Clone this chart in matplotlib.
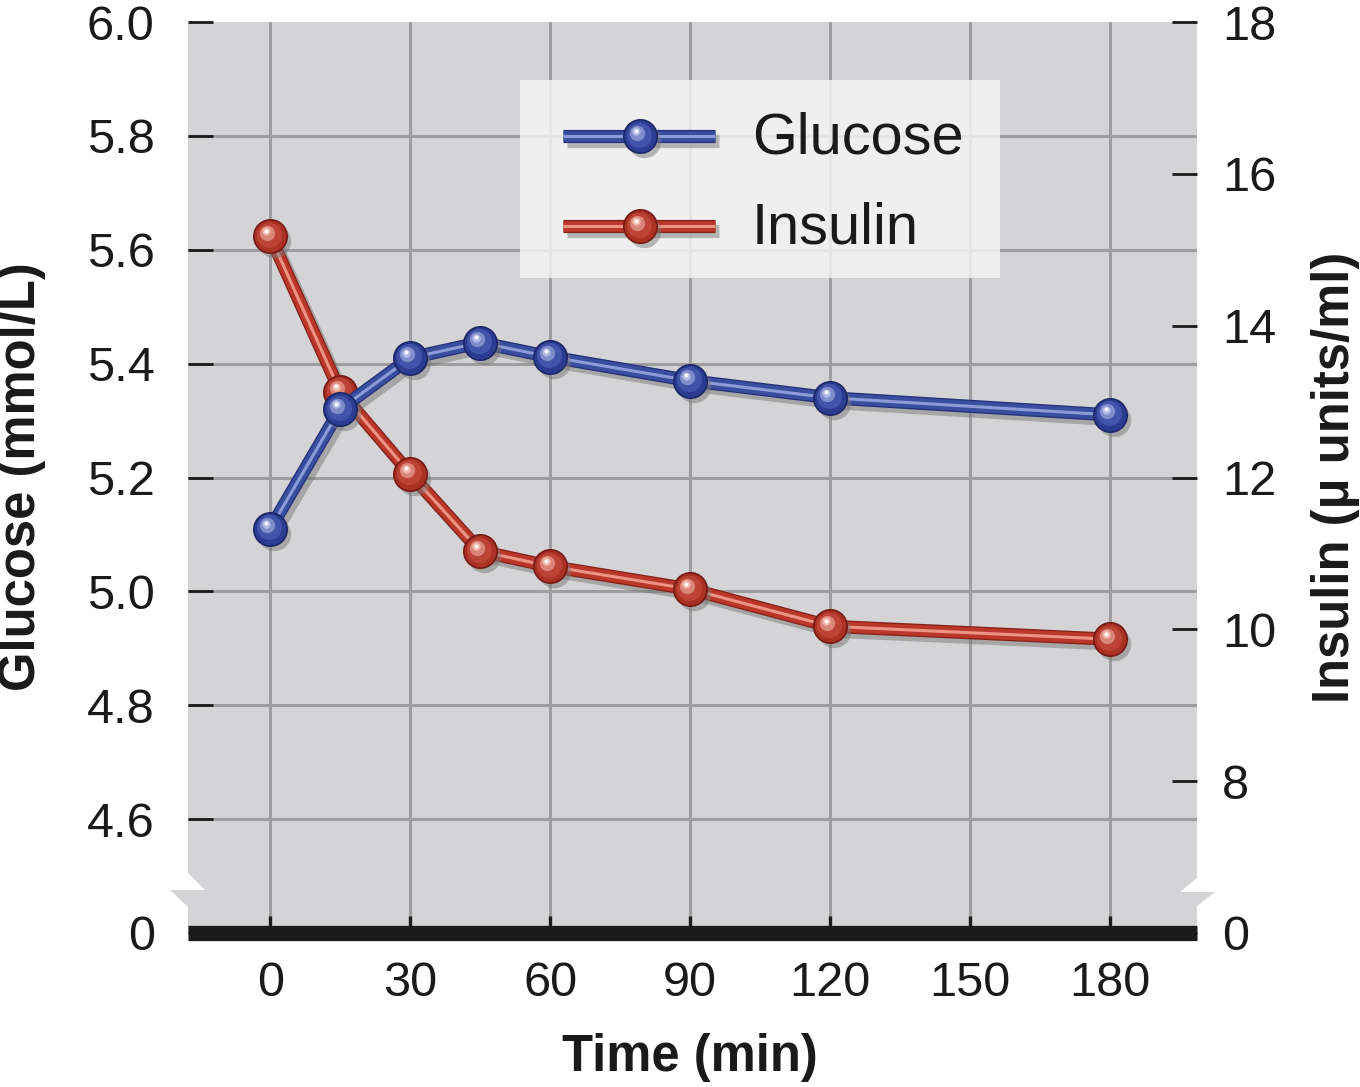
import matplotlib
matplotlib.use("Agg")
import matplotlib.pyplot as plt
import matplotlib.patheffects as pe
from matplotlib import transforms
from matplotlib.patches import Polygon, Rectangle

plt.rcParams['font.family'] = ['Liberation Sans', 'DejaVu Sans']

# data
time_min = [0, 15, 30, 45, 60, 90, 120, 180]
glucose = [5.11, 5.32, 5.41, 5.437, 5.412, 5.37, 5.34, 5.31]
insulin = [15.18, 13.13, 12.05, 11.03, 10.83, 10.53, 10.04, 9.87]

x_ticks = [0, 30, 60, 90, 120, 150, 180]
glu_ticks = [4.4, 4.6, 4.8, 5.0, 5.2, 5.4, 5.6, 5.8, 6.0]
glu_labels = ['0', '4.6', '4.8', '5.0', '5.2', '5.4', '5.6', '5.8', '6.0']
ins_ticks = [6, 8, 10, 12, 14, 16, 18]
ins_labels = ['0', '8', '10', '12', '14', '16', '18']

W, H = 1360, 1087
L, R, T, B = 188, 1197, 22, 933

fig = plt.figure(figsize=(W / 100, H / 100), dpi=100)
ax = fig.add_axes([L / W, (H - B) / H, (R - L) / W, (B - T) / H])
ax2 = ax.twinx()


def fx(px):
    return (px - L) / (R - L)


def fy(py):
    return (B - py) / (B - T)


ink = '#1a1a1a'
bg = '#d4d4d6'
grid = '#9e9ea0'

ax.set_xlim(-17.6, 198.6)
ax.set_ylim(4.4, 6.0)
ax2.set_ylim(6, 18)
ax.patch.set_visible(False)
ax2.patch.set_visible(False)

# gray panel with axis-break notches
pts = [(L, T), (R, T), (R, 878), (1180, 892), (1215, 892), (R, 906), (R, B),
       (L, B), (L, 907), (170, 890), (205, 890), (L, 873)]
ax.add_patch(Polygon([(fx(a), fy(b)) for a, b in pts], closed=True,
                     transform=ax.transAxes, facecolor=bg, edgecolor='none',
                     zorder=0, clip_on=False))

for v in glu_ticks[1:-1]:
    ax.axhline(v, color=grid, lw=2.2, zorder=1)
for v in x_ticks:
    ax.axvline(v, color=grid, lw=2.2, zorder=1)

for s in ['left', 'right', 'top']:
    ax.spines[s].set_visible(False)
    ax2.spines[s].set_visible(False)
ax2.spines['bottom'].set_visible(False)
ax.spines['bottom'].set_linewidth(11)
ax.spines['bottom'].set_color(ink)
ax.spines['bottom'].set_capstyle('butt')
ax.spines['bottom'].set_zorder(2)

ax.set_xticks(x_ticks)
ax.set_xticklabels([str(v) for v in x_ticks])
ax.set_yticks(glu_ticks)
ax.set_yticklabels(glu_labels)
ax2.set_yticks(ins_ticks)
ax2.set_yticklabels(ins_labels)

ax.tick_params(axis='x', direction='in', length=12, width=2.4, color=ink,
               labelsize=35, labelcolor=ink, pad=20)
ax.tick_params(axis='y', direction='in', length=18, width=2, color=ink,
               labelsize=35, labelcolor=ink, pad=24)
ax2.tick_params(axis='y', direction='in', length=18, width=2, color=ink,
                labelsize=35, labelcolor=ink, pad=18)


def draw_line(x, y, trans, body, edge, stripe, z):
    ax.plot(x, y, transform=trans, color=stripe, lw=2.2, zorder=z,
            solid_capstyle='butt', solid_joinstyle='round',
            path_effects=[pe.SimpleLineShadow(offset=(3, -3.5), shadow_color='#6e6e6e',
                                              alpha=0.45, linewidth=9.5),
                          pe.Stroke(linewidth=9.5, foreground=edge),
                          pe.Stroke(linewidth=7.6, foreground=body),
                          pe.Normal()])


def draw_balls(x, y, trans, ball, edge, mid, shine, z):
    sh = transforms.offset_copy(trans, fig=fig, x=4, y=-5, units='dots')
    ax.plot(x, y, transform=sh, ls='none', marker='o', ms=24, mfc='#7a7a7a',
            mec='none', alpha=0.5, zorder=z - 0.05)
    ax.plot(x, y, transform=trans, ls='none', marker='o', ms=24, mfc=ball,
            mec=edge, mew=1.2, zorder=z)
    for dx, dy, ms, col, a in [(-1.5, 1.5, 18, mid, 0.7), (-3, 3.5, 11, shine, 0.55),
                               (-4, 5, 6, shine, 0.9), (-4.5, 5.5, 3, 'white', 0.9)]:
        tr = transforms.offset_copy(trans, fig=fig, x=dx, y=dy, units='dots')
        ax.plot(x, y, transform=tr, ls='none', marker='o', ms=ms, mfc=col,
                mec='none', alpha=a, zorder=z + 0.01)


blue = dict(body='#3a4ea0', edge='#25327a', stripe='#8d9cd6')
blue_ball = dict(ball='#2c3c92', edge='#1c2766', mid='#4c5eb4', shine='#b4bee8')
red = dict(body='#bb3729', edge='#87221a', stripe='#ec9584')
red_ball = dict(ball='#ab3125', edge='#741a12', mid='#c44c3c', shine='#f4bcae')

ins_trans = ax2.transData
draw_line(time_min, insulin, ins_trans, z=3, **red)
draw_balls(time_min, insulin, ins_trans, z=3.5, **red_ball)
draw_line(time_min, glucose, ax.transData, z=4, **blue)
draw_balls(time_min, glucose, ax.transData, z=4.5, **blue_ball)

# legend
ax.add_patch(Rectangle((fx(520), fy(278)), fx(1000) - fx(520), fy(80) - fy(278),
                       transform=ax.transAxes, facecolor='#f6f6f6', alpha=0.82,
                       edgecolor='none', zorder=6))
for name, ypx, ls, bs in [('Glucose', 136, blue, blue_ball),
                          ('Insulin', 226, red, red_ball)]:
    draw_line([fx(563), fx(715)], [fy(ypx)] * 2, ax.transAxes, z=7, **ls)
    draw_balls([fx(640)], [fy(ypx)], ax.transAxes, z=7.5, **bs)
    ax.text(fx(752), fy(ypx + 2), name, transform=ax.transAxes, fontsize=41.5,
            color=ink, ha='left', va='center', zorder=8)

fig.text(22 / W, 1 - 477 / H, 'Glucose (mmol/L)', rotation=90, ha='center',
         va='center', fontsize=36.5, fontweight='bold', color=ink)
fig.text(1335 / W, 1 - 477 / H, 'Insulin (μ units/ml)', rotation=90, ha='center',
         va='center', fontsize=36.5, fontweight='bold', color=ink)
fig.text(690 / W, 1 - 1057 / H, 'Time (min)', ha='center', va='center',
         fontsize=36.5, fontweight='bold', color=ink)

fig.savefig('out.png', dpi=100)
